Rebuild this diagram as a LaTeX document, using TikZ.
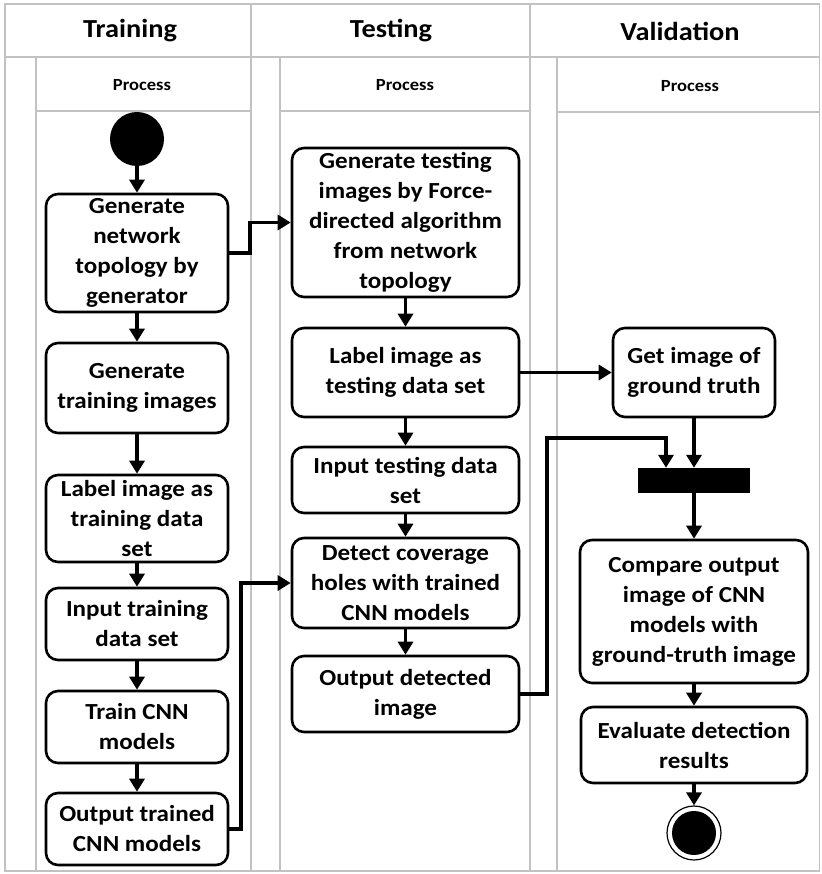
\documentclass[tikz,border=0pt]{standalone}
\usepackage{fontspec}
\setmainfont{Carlito}[FakeStretch=1.09]
\usetikzlibrary{arrows.meta}
\newcommand\boxtxt{\fontsize{23}{30}\selectfont\bfseries}
\newcommand\headtxt{\fontsize{26}{30}\selectfont\bfseries}
\newcommand\proctxt{\fontsize{17}{20}\selectfont\bfseries}
\tikzset{
  lane/.style={draw=black!24, line width=1.3pt},
  box/.style={draw, line width=2.6pt, rounded corners=12pt, fill=white, align=center, inner sep=0pt, font=\boxtxt},
  arr/.style={line width=3.2pt, -{Triangle[length=13pt,width=15pt]}},
  xarr/.style={arr, line width=3.8pt},
  lbl/.style={inner sep=0pt}
}
\begin{document}
\begin{tikzpicture}[x=1pt,y=-1pt]
\useasboundingbox (0,0) rectangle (821,874);
\fill[white] (0,0) rectangle (821,874);
% swimlane frame
\draw[lane] (5,4) rectangle (819.5,871);
\draw[lane] (5,57) -- (819.5,57);
\draw[lane] (251,4) -- (251,871);
\draw[lane] (530,4) -- (530,871);
\draw[lane] (36,57) -- (36,871);
\draw[lane] (280,57) -- (280,871);
\draw[lane] (557,57) -- (557,871);
\draw[lane] (36,111) -- (251,111);
\draw[lane] (280,111) -- (530,111);
\draw[lane] (557,112) -- (819.5,112);
% headers
\node[lbl, font=\headtxt] (hTrain) at (130,31) {Training};
\node[lbl, font=\headtxt] (hTest) at (391,31) {Testing};
\node[lbl, font=\headtxt] (hVal) at (680,31) {Validation};
\node[lbl, font=\proctxt] (pTrain) at (142,85) {Process};
\node[lbl, font=\proctxt] (pTest) at (405,85) {Process};
\node[lbl, font=\proctxt] (pVal) at (690,86) {Process};
% training
\node[circle, fill=black, minimum size=54pt, inner sep=0pt] (start) at (137,139) {};
\node[box, minimum width=182pt, minimum height=118pt] (A1) at (137,253) {Generate\\network\\topology by\\generator};
\node[box, minimum width=182pt, minimum height=90pt] (A2) at (137,388) {Generate\\training images};
\node[box, minimum width=182pt, minimum height=87pt] (A3) at (137,518.5) {Label image as\\training data\\set};
\node[box, minimum width=182pt, minimum height=72pt] (A4) at (137,624) {Input training\\data set};
\node[box, minimum width=182pt, minimum height=72pt] (A5) at (137,727) {Train CNN\\models};
\node[box, minimum width=182pt, minimum height=72pt] (A6) at (137,829) {Output trained\\CNN models};
% testing
\node[box, minimum width=227pt, minimum height=149pt] (B1) at (405.5,222.5) {Generate testing\\images by Force-\\directed algorithm\\from network\\topology};
\node[box, minimum width=227pt, minimum height=89pt] (B2) at (405.5,372.5) {Label image as\\testing data set};
\node[box, minimum width=227pt, minimum height=66pt] (B3) at (405.5,480) {Input testing data\\set};
\node[box, minimum width=227pt, minimum height=90pt] (B4) at (405.5,583) {Detect coverage\\holes with trained\\CNN models};
\node[box, minimum width=227pt, minimum height=76pt] (B5) at (405.5,694) {Output detected\\image};
% validation
\node[box, minimum width=162pt, minimum height=89pt] (C1) at (694,372.5) {Get image of\\ground truth};
\node[fill=black, minimum width=112pt, minimum height=25pt, inner sep=0pt] (bar) at (694,480.5) {};
\node[box, minimum width=228pt, minimum height=143pt] (C2) at (694,611.5) {Compare output\\image of CNN\\models with\\ground-truth image};
\node[box, minimum width=226pt, minimum height=76pt] (C3) at (694,745) {Evaluate detection\\results};
\node[circle, draw, line width=1.2pt, fill=white, minimum size=54pt, inner sep=0pt] (end) at (694,833) {};
\node[circle, fill=black, minimum size=44pt, inner sep=0pt] (endin) at (end) {};
% connectors
\coordinate (j1) at (547,438);
\coordinate (j2) at (666,438);
\draw[arr] (start) -- (A1);
\draw[arr] (A1) -- (A2);
\draw[arr] (A2) -- (A3);
\draw[arr] (A3) -- (A4);
\draw[arr] (A4) -- (A5);
\draw[arr] (A5) -- (A6);
\draw[xarr] (A1.east) -- ++(21,0) |- (B1.west);
\draw[xarr] (A6.east) -- ++(12,0) |- (B4.west);
\draw[arr] (B1) -- (B2);
\draw[arr] (B2) -- (B3);
\draw[arr] (B3) -- (B4);
\draw[arr] (B4) -- (B5);
\draw[xarr] (B2.east) -- (C1.west);
\draw[xarr] (B5.east) -| (j1) -- (j2) -- (bar.north -| j2);
\draw[arr] (C1) -- (bar);
\draw[arr] (bar) -- (C2);
\draw[arr] (C2) -- (C3);
\draw[arr] (C3) -- (end);
\end{tikzpicture}
\end{document}
